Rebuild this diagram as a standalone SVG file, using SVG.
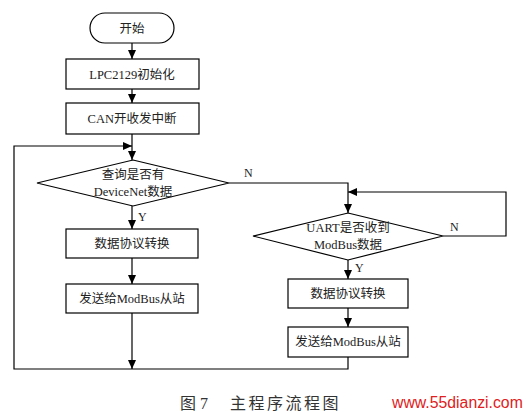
<svg xmlns="http://www.w3.org/2000/svg" width="526" height="412" viewBox="0 0 526 412">
<defs>
<marker id="ah" markerWidth="10" markerHeight="8" refX="9" refY="4" orient="auto" markerUnits="userSpaceOnUse">
<path d="M0,0 L9,4 L0,8 z" fill="#000"/>
</marker>
<style>
.s{fill:#fff;stroke:#000;stroke-width:1.2}
.c{fill:none;stroke:#000;stroke-width:1.2}
.t{font-family:"Liberation Serif","Noto Sans CJK SC",serif;font-size:12.5px;fill:#222;text-anchor:middle}
.l{font-family:"Liberation Serif","Noto Sans CJK SC",serif;font-size:12px;fill:#222}
.cap{font-family:"Liberation Serif","Noto Sans CJK SC",serif;font-size:16px;fill:#333}
</style>
</defs>
<rect width="526" height="412" fill="#fff"/>
<g id="connectors">
<path class="c" d="M132,43 V59" marker-end="url(#ah)"/>
<path class="c" d="M132,89 V103" marker-end="url(#ah)"/>
<path class="c" d="M132,134 V160" marker-end="url(#ah)"/>
<path class="c" d="M132,369 H14 V146 H132" marker-end="url(#ah)"/>
<path class="c" d="M132,206 V229" marker-end="url(#ah)"/>
<path class="c" d="M132,258 V284" marker-end="url(#ah)"/>
<path class="c" d="M132,313 V369" marker-end="url(#ah)"/>
<path class="c" d="M229,183 H348 V213" marker-end="url(#ah)"/>
<path class="c" d="M443,236 H506 V192 H348" marker-end="url(#ah)"/>
<path class="c" d="M348,260 V279" marker-end="url(#ah)"/>
<path class="c" d="M348,308 V327" marker-end="url(#ah)"/>
<path class="c" d="M348,357 V369 H132"/>
<text class="l" x="244" y="177">N</text>
<text class="l" x="450" y="231">N</text>
<text class="l" x="138" y="221">Y</text>
<text class="l" x="355" y="272">Y</text>
</g>
<g id="start">
<rect class="s" x="90" y="13" width="84" height="30" rx="15"/>
<text class="t" x="132" y="32.5">开始</text>
</g>
<g id="init">
<rect class="s" x="66" y="59" width="133" height="30"/>
<text class="t" x="132" y="78.5">LPC2129初始化</text>
</g>
<g id="can">
<rect class="s" x="66" y="103" width="133" height="31"/>
<text class="t" x="132" y="123">CAN开收发中断</text>
</g>
<g id="dec1">
<polygon class="s" points="133,160 229,183 133,206 37,183"/>
<text class="t" x="133" y="179">查询是否有</text>
<text class="t" x="133" y="196">DeviceNet数据</text>
</g>
<g id="conv1">
<rect class="s" x="66" y="229" width="132" height="29"/>
<text class="t" x="132" y="248">数据协议转换</text>
</g>
<g id="send1">
<rect class="s" x="66" y="284" width="132" height="29"/>
<text class="t" x="132" y="303">发送给ModBus从站</text>
</g>
<g id="dec2">
<polygon class="s" points="348,213 443,236 348,260 253,236"/>
<text class="t" x="348" y="232">UART是否收到</text>
<text class="t" x="348" y="249">ModBus数据</text>
</g>
<g id="conv2">
<rect class="s" x="288" y="279" width="120" height="29"/>
<text class="t" x="348" y="298">数据协议转换</text>
</g>
<g id="send2">
<rect class="s" x="288" y="327" width="120" height="30"/>
<text class="t" x="348" y="346">发送给ModBus从站</text>
</g>
<g id="caption">
<text class="cap" x="180" y="409">图 7</text>
<text class="cap" x="230" y="409" style="letter-spacing:2.5px">主程序流程图</text>
<text x="392" y="408" style="font-family:'Liberation Sans',Arial,sans-serif;font-size:15.8px;fill:#e02020">www.55dianzi.com</text>
</g>
</svg>
